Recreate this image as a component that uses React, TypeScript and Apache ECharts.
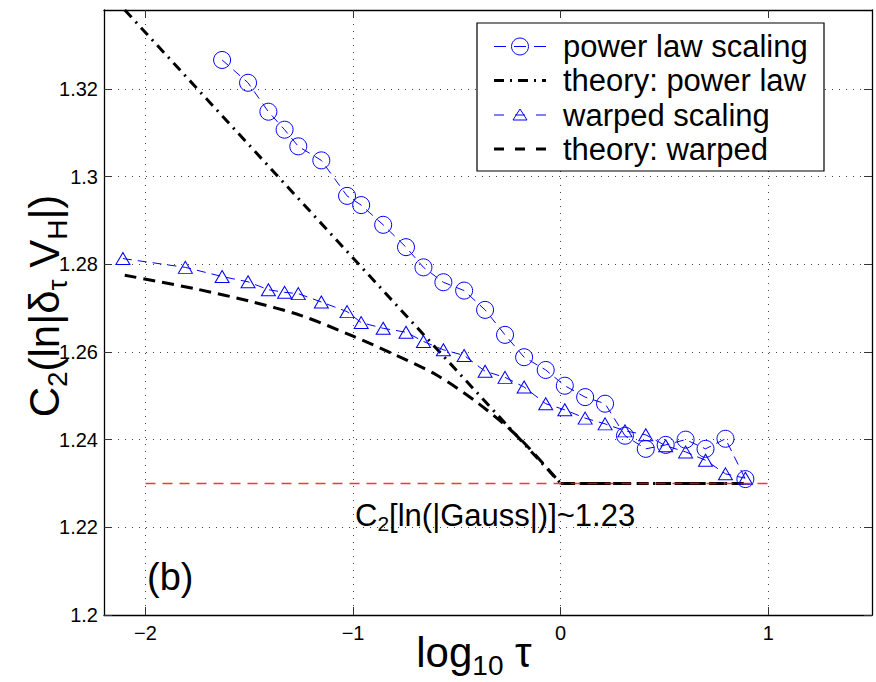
import React, { useEffect, useRef } from "react";
import * as echarts from "echarts";

// ---- data ----
const powerLawX = [-1.631, -1.506, -1.408, -1.330, -1.264, -1.153, -1.029, -0.961, -0.855, -0.745, -0.661, -0.565, -0.465, -0.364, -0.268, -0.176, -0.072, 0.020, 0.118, 0.214, 0.310, 0.410, 0.506, 0.602, 0.698, 0.794, 0.890];
const powerLawY = [1.3266, 1.3214, 1.3148, 1.3107, 1.3069, 1.3037, 1.2956, 1.2935, 1.2890, 1.2839, 1.2793, 1.2759, 1.2740, 1.2696, 1.2639, 1.2588, 1.2559, 1.2523, 1.2497, 1.2482, 1.2409, 1.2379, 1.2388, 1.2400, 1.2379, 1.2402, 1.2310];

const warpedX = [-2.109, -1.808, -1.631, -1.506, -1.408, -1.330, -1.264, -1.153, -1.029, -0.961, -0.855, -0.745, -0.661, -0.565, -0.465, -0.364, -0.268, -0.176, -0.072, 0.020, 0.118, 0.214, 0.310, 0.410, 0.506, 0.602, 0.698, 0.794, 0.890];
const warpedY = [1.2813, 1.2793, 1.2772, 1.2760, 1.2742, 1.2736, 1.2733, 1.2714, 1.2692, 1.2667, 1.2654, 1.2645, 1.2624, 1.2605, 1.2592, 1.2556, 1.2542, 1.2520, 1.2482, 1.2468, 1.2449, 1.2436, 1.2420, 1.2411, 1.2386, 1.2372, 1.2353, 1.2322, 1.2312];

const theoryPowerX = [-2.1, 0, 0.89];
const theoryPowerY = [1.338, 1.23, 1.23];

// curved part of the warped theory (smoothed by the library) and its flat tail
const theoryWarpedX = [-2.1, -1.75, -1.5, -1.25, -1.0, -0.8, -0.6, -0.4, -0.2, 0];
const theoryWarpedY = [1.2775, 1.2743, 1.2716, 1.2683, 1.2636, 1.2594, 1.2548, 1.2484, 1.2404, 1.23];
const theoryWarpedTailX = [0, 0.89];
const theoryWarpedTailY = [1.23, 1.23];

const gaussX = [-2, 1];
const gaussY = [1.23, 1.23];

const xTicks = [-2, -1, 0, 1];
const yTicks = [1.2, 1.22, 1.24, 1.26, 1.28, 1.3, 1.32];

const legendLabels = ["power law scaling", "theory: power law", "warped scaling", "theory: warped"];

const FONT = "'Liberation Sans', Arial, Helvetica, sans-serif";
const BLUE = "#0000ff";
const RED = "#ff0000";

const zip = (xs: number[], ys: number[]) => xs.map((x, i) => [x, ys[i]]);

export default function App() {
  const ref = useRef<HTMLDivElement | null>(null);

  useEffect(() => {
    if (!ref.current) return;
    const chart = echarts.init(ref.current, undefined, { renderer: "svg" });

    const axisLine = { show: true, onZero: false, lineStyle: { color: "#000", width: 1.3 } };
    const tickStyle = { color: "#333", width: 1 };
    const gridLine = { show: true, lineStyle: { color: "#444", width: 1, type: [1, 6] as any } };
    const xFmt = (v: number) => (v < 0 ? "\u2212" + Math.abs(v) : String(v));
    const yFmt = (v: number) => String(Math.round(v * 100) / 100);

    const xBase = { type: "value", min: -2.2, max: 1.5 };
    const yBase = { type: "value", min: 1.2, max: 1.338 };

    // legend (drawn as graphic)
    const lgLeft = 477, lgTop = 23, lgW = 347, lgH = 148;
    const rowY = [46.5, 80.5, 115, 149];
    const iconX0 = 494, iconX1 = 546, iconC = 520;
    const legendEls: any[] = [
      { type: "rect", shape: { x: lgLeft, y: lgTop, width: lgW, height: lgH }, style: { fill: "#fff", stroke: "#000", lineWidth: 1.2 }, z: 100 },
      { type: "line", shape: { x1: iconX0, y1: rowY[0], x2: iconX1, y2: rowY[0] }, style: { stroke: BLUE, lineWidth: 1, lineDash: [12, 8] }, z: 101 },
      { type: "circle", shape: { cx: iconC, cy: rowY[0], r: 8.5 }, style: { fill: "none", stroke: BLUE, lineWidth: 1 }, z: 101 },
      { type: "line", shape: { x1: iconX0, y1: rowY[1], x2: iconX1, y2: rowY[1] }, style: { stroke: "#000", lineWidth: 3, lineDash: [10, 6, 2, 6] }, z: 101 },
      { type: "line", shape: { x1: iconX0, y1: rowY[2], x2: iconX1, y2: rowY[2] }, style: { stroke: BLUE, lineWidth: 1, lineDash: [10, 11] }, z: 101 },
      { type: "polygon", shape: { points: [[iconC, rowY[2] - 6], [iconC - 7, rowY[2] + 5], [iconC + 7, rowY[2] + 5]] }, style: { fill: "none", stroke: BLUE, lineWidth: 1 }, z: 101 },
      { type: "line", shape: { x1: iconX0, y1: rowY[3], x2: iconX1, y2: rowY[3] }, style: { stroke: "#000", lineWidth: 3, lineDash: [10, 11] }, z: 101 },
    ];
    legendLabels.forEach((t, i) => {
      legendEls.push({
        type: "text", x: 563, y: rowY[i], z: 101,
        style: { text: t, fontSize: 31, fontFamily: FONT, fill: "#000", align: "left", verticalAlign: "middle" },
      });
    });

    const option: any = {
      animation: false,
      backgroundColor: "#fff",
      grid: { left: 104, right: 4, top: 10, bottom: 67, containLabel: false },
      xAxis: [
        {
          ...xBase, position: "bottom", axisLine,
          axisTick: { show: true, inside: true, length: 8, customValues: xTicks, lineStyle: tickStyle },
          axisLabel: { customValues: xTicks, formatter: xFmt, fontSize: 20, color: "#000", fontFamily: FONT, margin: 8 },
          splitLine: gridLine,
        },
        {
          ...xBase, position: "top", axisLine,
          axisTick: { show: true, inside: true, length: 8, customValues: xTicks, lineStyle: tickStyle },
          axisLabel: { show: false }, splitLine: { show: false },
        },
      ],
      yAxis: [
        {
          ...yBase, position: "left", axisLine,
          axisTick: { show: true, inside: true, length: 8, customValues: yTicks, lineStyle: tickStyle },
          axisLabel: { customValues: yTicks, formatter: yFmt, fontSize: 20, color: "#000", fontFamily: FONT, margin: 6 },
          splitLine: gridLine,
        },
        {
          ...yBase, position: "right", axisLine,
          axisTick: { show: true, inside: true, length: 8, customValues: yTicks, lineStyle: tickStyle },
          axisLabel: { show: false }, splitLine: { show: false },
        },
      ],
      series: [
        {
          name: legendLabels[0], type: "line", data: zip(powerLawX, powerLawY),
          symbol: "circle", symbolSize: 17, color: BLUE,
          lineStyle: { color: BLUE, width: 1, type: [9, 6] },
          itemStyle: { color: "rgba(0,0,0,0)", borderColor: BLUE, borderWidth: 1 },
          z: 3,
        },
        {
          name: legendLabels[1], type: "line", data: zip(theoryPowerX, theoryPowerY), color: "#000",
          symbol: "none", lineStyle: { color: "#000", width: 3, type: [10, 6, 2, 6] }, z: 2,
        },
        {
          name: legendLabels[2], type: "line", data: zip(warpedX, warpedY),
          symbol: "triangle", symbolSize: [14, 12], color: BLUE,
          lineStyle: { color: BLUE, width: 1, type: [9, 6] },
          itemStyle: { color: "rgba(0,0,0,0)", borderColor: BLUE, borderWidth: 1 },
          z: 3,
        },
        {
          name: legendLabels[3], type: "line", data: zip(theoryWarpedX, theoryWarpedY), color: "#000",
          symbol: "none", smooth: 0.3,
          lineStyle: { color: "#000", width: 3, type: [12, 7] }, z: 2,
        },
        {
          name: legendLabels[3] + " tail", type: "line", data: zip(theoryWarpedTailX, theoryWarpedTailY), color: "#000",
          symbol: "none", lineStyle: { color: "#000", width: 3, type: [12, 7] }, z: 2,
        },
        {
          name: "gauss", type: "line", data: zip(gaussX, gaussY), color: RED,
          symbol: "none", lineStyle: { color: RED, width: 1.5, type: [10, 7], opacity: 0.8 },
          itemStyle: { color: RED }, z: 4,
        },
      ],
      graphic: [
        ...legendEls,
        {
          type: "text", x: 47, y: 306, rotation: Math.PI / 2, z: 50,
          style: {
            text: "{m|C}{s|2}{m|(ln|δ}{s|τ}{m| V}{s|H}{m||)}",
            align: "center", verticalAlign: "middle",
            rich: {
              m: { fontSize: 42, fontFamily: FONT, fill: "#000", lineHeight: 48, verticalAlign: "top" },
              s: { fontSize: 28, fontFamily: FONT, fill: "#000", lineHeight: 20, verticalAlign: "bottom" },
            },
          },
        },
        {
          type: "text", x: 474, y: 655, z: 50,
          style: {
            text: "{m|log}{s|10}{m| τ}",
            align: "center", verticalAlign: "middle",
            rich: {
              m: { fontSize: 42, fontFamily: FONT, fill: "#000", lineHeight: 48, verticalAlign: "top" },
              s: { fontSize: 28, fontFamily: FONT, fill: "#000", lineHeight: 20, verticalAlign: "bottom" },
            },
          },
        },
        {
          type: "text", x: 355, y: 517, z: 50,
          style: {
            text: "{m|C}{s|2}{m|[ln(|Gauss|)]~1.23}",
            align: "left", verticalAlign: "middle",
            rich: {
              m: { fontSize: 31, fontFamily: FONT, fill: "#000", lineHeight: 34, verticalAlign: "top" },
              s: { fontSize: 21, fontFamily: FONT, fill: "#000", lineHeight: 14, verticalAlign: "bottom" },
            },
          },
        },
        {
          type: "text", x: 147, y: 577, z: 50,
          style: { text: "(b)", fontSize: 38, fontFamily: FONT, fill: "#000", align: "left", verticalAlign: "middle" },
        },
      ],
    };

    chart.setOption(option);
    return () => chart.dispose();
  }, []);

  return (
    <div
      ref={ref}
      style={{ position: "fixed", left: 0, top: 0, width: 876, height: 682, background: "#fff" }}
    />
  );
}
